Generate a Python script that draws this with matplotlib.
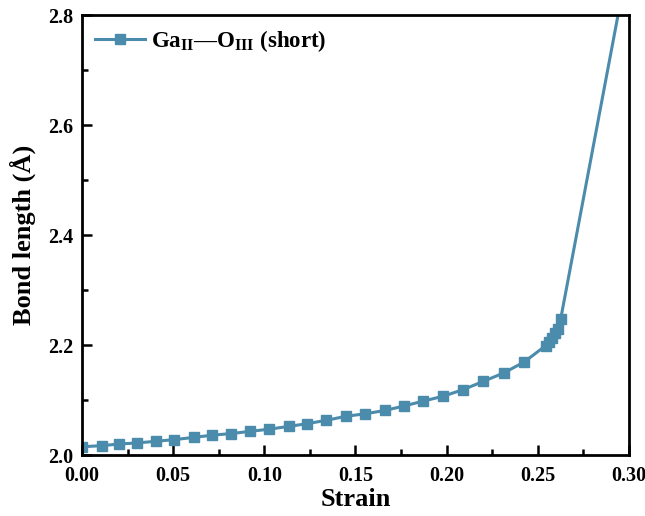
import matplotlib
matplotlib.use("Agg")
from matplotlib import pyplot
from matplotlib.ticker import MultipleLocator

pyplot.rcParams["font.family"] = ["Liberation Serif", "DejaVu Serif"]
pyplot.rcParams["font.weight"] = "bold"
pyplot.rcParams["mathtext.fontset"] = "custom"
pyplot.rcParams["mathtext.rm"] = "Liberation Serif:bold"
pyplot.rcParams["mathtext.bf"] = "Liberation Serif:bold"

# values
strain = [0.000, 0.0108, 0.0205, 0.0304, 0.0407, 0.0507, 0.0612, 0.0714,
          0.0819, 0.0923, 0.1027, 0.1134, 0.1235, 0.1339, 0.1449, 0.1555,
          0.1661, 0.1765, 0.1872, 0.1982, 0.2092, 0.2202, 0.2312, 0.2425,
          0.2544, 0.2560, 0.2577, 0.2593, 0.2610, 0.2626, 0.3000]
bond_length = [2.015, 2.017, 2.020, 2.022, 2.025, 2.028, 2.032, 2.036,
               2.039, 2.043, 2.047, 2.052, 2.057, 2.063, 2.0705, 2.075,
               2.081, 2.089, 2.098, 2.107, 2.119, 2.134, 2.149, 2.169,
               2.199, 2.206, 2.213, 2.221, 2.230, 2.248, 2.905]
series_label = r"Ga$_{\mathbf{II}}$—O$_{\mathbf{III}}$ (short)"

color = "#4b8bab"

fig = pyplot.figure(figsize=(6.45, 5.16), dpi=100)
ax = fig.add_axes([0.1271, 0.1182, 0.848, 0.8527])

ax.plot(strain, bond_length, color=color, linewidth=2.2, marker="s",
        markersize=7, label=series_label)

ax.set_xlim(0.0, 0.30)
ax.set_ylim(2.0, 2.8)
ax.xaxis.set_major_locator(MultipleLocator(0.05))
ax.xaxis.set_minor_locator(MultipleLocator(0.025))
ax.yaxis.set_major_locator(MultipleLocator(0.2))
ax.yaxis.set_minor_locator(MultipleLocator(0.1))
ax.xaxis.set_major_formatter(lambda v, pos: f"{v:.2f}")
ax.yaxis.set_major_formatter(lambda v, pos: f"{v:.1f}")

ax.tick_params(which="both", direction="in", width=1.8, labelsize=14.5,
               top=False, right=False)
ax.tick_params(which="major", length=7)
ax.tick_params(which="minor", length=4)
ax.tick_params(axis="x", which="major", pad=8)
ax.tick_params(axis="y", which="major", pad=6)
for spine in ax.spines.values():
    spine.set_linewidth(2)

ax.set_xlabel("Strain", fontsize=19, fontweight="bold", labelpad=1)
ax.set_ylabel("Bond length (Å)", fontsize=19, fontweight="bold", labelpad=9)

ax.legend(loc="upper left", frameon=False, fontsize=16.5, handlelength=2.2,
          handletextpad=0.25, borderaxespad=0.1, borderpad=0.45)

fig.savefig("out.png", dpi=100)
